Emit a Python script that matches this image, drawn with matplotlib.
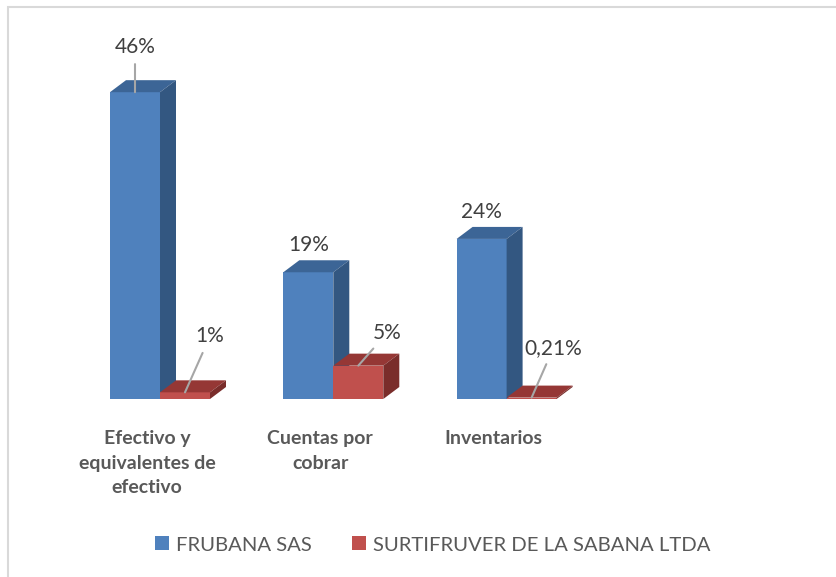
import matplotlib.pyplot as plt
from matplotlib.patches import Polygon, Rectangle

# Datos del grafico
categorias = ["Efectivo y\nequivalentes de\nefectivo", "Cuentas por\ncobrar", "Inventarios"]
series = ["FRUBANA SAS", "SURTIFRUVER DE LA SABANA LTDA"]
frubana = [46, 19, 24]
surtifruver = [1, 5, 0.21]
etiq_frubana = ["46%", "19%", "24%"]
etiq_surtifruver = ["1%", "5%", "0,21%"]

# Colores (frente, tapa, lado)
azul = ("#4F81BD", "#3C6596", "#335781")
rojo = ("#C0504D", "#953735", "#7A2D2B")

plt.rcParams['font.family'] = ['Lato', 'DejaVu Sans']

fig = plt.figure(figsize=(8.37, 5.77), dpi=100)
ax = fig.add_axes([0, 0, 1, 1])

# escala: pixeles por categoria y por punto porcentual
px_cat = 173.3
px_pct = 6.67
ax.set_xlim(-160 / px_cat, (837 - 160) / px_cat)
ax.set_ylim(-178 / px_pct, (577 - 178) / px_pct)
ax.axis("off")

ancho = 50 / px_cat
dx = 16 / px_cat
dy = 12 / px_pct

x = list(range(len(categorias)))


def barras_3d(xs, vals, colores, z):
    bars = ax.bar(xs, vals, width=ancho, color=colores[0], zorder=z, linewidth=0)
    for b in bars:
        l = b.get_x()
        r = l + b.get_width()
        h = b.get_height()
        tapa = Polygon([(l, h), (r, h), (r + dx, h + dy), (l + dx, h + dy)],
                       closed=True, facecolor=colores[1], edgecolor="none", zorder=z)
        lado = Polygon([(r, 0), (r + dx, dy), (r + dx, h + dy), (r, h)],
                       closed=True, facecolor=colores[2], edgecolor="none", zorder=z)
        ax.add_patch(tapa)
        ax.add_patch(lado)
    return bars


b1 = barras_3d([i - ancho / 2 for i in x], frubana, azul, 2)
b2 = barras_3d([i + ancho / 2 for i in x], surtifruver, rojo, 3)

# etiquetas de datos: desplazamiento en pixeles y si lleva linea guia
desp_frubana = [(0, 45, True), (0, 27, False), (0, 27, False)]
desp_surtifruver = [(25, 56, True), (29, 33, True), (22, 50, True)]


def etiquetas(bars, textos, desps):
    for b, t, (ox, oy, guia) in zip(bars, textos, desps):
        xc = b.get_x() + b.get_width() / 2
        props = None
        if guia:
            props = dict(arrowstyle="-", color="#A6A6A6", lw=1.5, shrinkA=3, shrinkB=0)
        ax.annotate(t, (xc, b.get_height()), xytext=(ox, oy), textcoords="offset pixels",
                    ha="center", va="center", fontsize=15, color="#404040",
                    arrowprops=props, zorder=5)


etiquetas(b1, etiq_frubana, desp_frubana)
etiquetas(b2, etiq_surtifruver, desp_surtifruver)

# etiquetas de categoria
for i, c in zip(x, categorias):
    ax.annotate(c, (i, 0), xytext=(-13, -31), textcoords="offset pixels",
                ha="center", va="top", fontsize=14, fontweight="bold",
                color="#595959", linespacing=1.55)

# leyenda
fig.legend([b1[0], b2[0]], series, loc="center", bbox_to_anchor=(433 / 837, 32 / 577),
           ncol=2, frameon=False, fontsize=14.6, labelcolor="#595959",
           handlelength=0.67, handleheight=0.67, handletextpad=0.35, columnspacing=2.0)

# marco del grafico
fig.patches.append(Rectangle((8 / 837, -0.1), 1.2, 1.1 - 7 / 577, transform=fig.transFigure,
                             fill=False, edgecolor="#D9D9D9", linewidth=1.5))

fig.savefig("out.png", dpi=100)
